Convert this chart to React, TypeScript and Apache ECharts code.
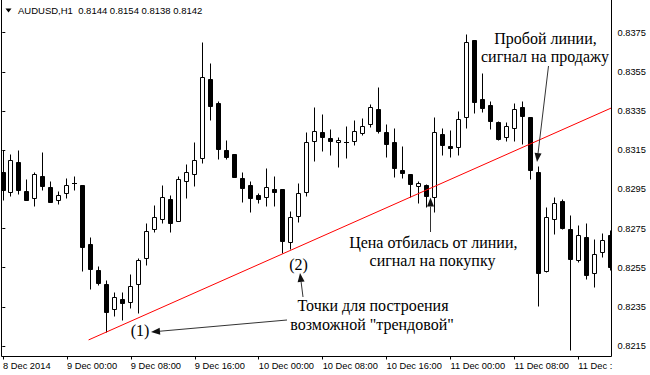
import React, { useEffect, useRef } from "react";
import * as echarts from "echarts";

// ---- header ----
const symbolTitle = "AUDUSD,H1";
const headerValues = ["0.8144", "0.8154", "0.8138", "0.8142"];

// ---- axes ----
const timeLabels = [
  "8 Dec 2014", "9 Dec 00:00", "9 Dec 08:00", "9 Dec 16:00", "10 Dec 00:00",
  "10 Dec 08:00", "10 Dec 16:00", "11 Dec 00:00", "11 Dec 08:00", "11 Dec :",
];
const barsPerLabel = 8;
const priceTickMin = 0.8215;
const priceTickMax = 0.8375;
const priceTickStep = 0.002;
const priceMin = 0.820964;
const priceMax = 0.83917;
const lastBarEdge = 76.15;

// ---- candles (H1 bars, index 0..76) ----
const opens = [
  0.8304, 0.82938, 0.83088, 0.82942, 0.82907, 0.83018, 0.82962, 0.82897, 0.8293, 0.82984,
  0.82972, 0.82671, 0.82538, 0.82467, 0.82337, 0.8239, 0.82376, 0.82465, 0.82597, 0.82746,
  0.82797, 0.82899, 0.82787, 0.82991, 0.83027, 0.83109, 0.83512, 0.8339, 0.83149, 0.83131,
  0.83006, 0.82972, 0.82921, 0.82909, 0.82952, 0.8295, 0.8268, 0.82815, 0.82939, 0.83198,
  0.83241, 0.83211, 0.8319, 0.8319, 0.83198, 0.83239, 0.83282, 0.8336, 0.83241, 0.8319,
  0.83049, 0.83028, 0.82969, 0.82974, 0.82909, 0.83231, 0.83171, 0.83168, 0.83317, 0.83713,
  0.83411, 0.83381, 0.83292, 0.83219, 0.83262, 0.83372, 0.83321, 0.83039, 0.82532, 0.82797,
  0.82889, 0.82747, 0.82588, 0.82707, 0.82525, 0.82628, 0.82717,
];
const closes = [
  0.82947, 0.831, 0.82947, 0.82896, 0.8303, 0.82969, 0.82887, 0.8292, 0.82972, 0.82984,
  0.82657, 0.82545, 0.82473, 0.82325, 0.82399, 0.82368, 0.82458, 0.82588, 0.82737, 0.82807,
  0.82909, 0.82777, 0.83001, 0.83037, 0.83098, 0.83522, 0.83377, 0.83158, 0.83117, 0.83015,
  0.82958, 0.82908, 0.82899, 0.8296, 0.82938, 0.82688, 0.82807, 0.8293, 0.8319, 0.8325,
  0.83219, 0.83198, 0.83202, 0.8319, 0.8325, 0.83274, 0.83371, 0.8325, 0.8318, 0.83058,
  0.83035, 0.82977, 0.82984, 0.82918, 0.83241, 0.83177, 0.83159, 0.83308, 0.83701, 0.83398,
  0.83368, 0.83301, 0.83207, 0.83274, 0.8336, 0.83326, 0.83047, 0.82525, 0.82809, 0.82879,
  0.82753, 0.82596, 0.82715, 0.82513, 0.82619, 0.8269, 0.82552,
];
const highs = [
  0.83151, 0.83131, 0.83151, 0.83003, 0.8304, 0.83141, 0.82993, 0.82942, 0.83006, 0.83018,
  0.82973, 0.82707, 0.82559, 0.82487, 0.82424, 0.82424, 0.82516, 0.82598, 0.8278, 0.82869,
  0.82972, 0.82921, 0.83018, 0.8308, 0.83192, 0.83703, 0.83595, 0.83401, 0.83202, 0.83132,
  0.83037, 0.82993, 0.8293, 0.83058, 0.83018, 0.82951, 0.82839, 0.82981, 0.83242, 0.83372,
  0.83335, 0.83258, 0.83216, 0.83275, 0.83304, 0.83314, 0.83386, 0.83473, 0.83282, 0.83262,
  0.83171, 0.83029, 0.82994, 0.82975, 0.83318, 0.83265, 0.83253, 0.83352, 0.83743, 0.83714,
  0.83546, 0.83403, 0.83301, 0.83292, 0.83391, 0.83401, 0.83322, 0.83069, 0.8286, 0.82911,
  0.82899, 0.82819, 0.82766, 0.8278, 0.82697, 0.82726, 0.82742,
];
const lows = [
  0.82896, 0.82918, 0.82926, 0.82895, 0.82865, 0.82947, 0.82886, 0.82877, 0.82907, 0.82947,
  0.82535, 0.82443, 0.82463, 0.82222, 0.82305, 0.82283, 0.82346, 0.82317, 0.82566, 0.82734,
  0.82777, 0.82734, 0.82786, 0.82907, 0.82969, 0.83086, 0.83306, 0.83107, 0.83107, 0.83014,
  0.82887, 0.82836, 0.82878, 0.82867, 0.82867, 0.82627, 0.82645, 0.82785, 0.82918, 0.83096,
  0.83147, 0.83125, 0.83066, 0.83109, 0.83177, 0.83228, 0.8327, 0.83238, 0.83117, 0.83015,
  0.83006, 0.82912, 0.82879, 0.82861, 0.82836, 0.83125, 0.83117, 0.83125, 0.83263, 0.83338,
  0.83347, 0.8326, 0.83202, 0.83198, 0.83198, 0.83182, 0.83004, 0.82354, 0.82527, 0.82724,
  0.82749, 0.82132, 0.82579, 0.82492, 0.82453, 0.82605, 0.82537,
];

// ---- trend line through points (1) and (2) ----
const trendLine = [
  [10.71, 0.82181],
  [76.15, 0.83366],
];

// ---- annotations ----
const noteSell = ["Пробой линии,", "сигнал на продажу"];
const noteBuy = ["Цена отбилась от линии,", "сигнал на покупку"];
const notePoints = ["Точки для построения", "возможной \"трендовой\""];
const pointLabels = ["(1)", "(2)"];

const SANS = '"Liberation Sans", Arial, sans-serif';
const SERIF = '"Liberation Serif", "Times New Roman", serif';

function arrow(x1: number, y1: number, x2: number, y2: number) {
  const dx = x2 - x1;
  const dy = y2 - y1;
  const len = Math.hypot(dx, dy);
  const ux = dx / len;
  const uy = dy / len;
  const hl = 9;
  const hw = 3.5;
  const bx = x2 - ux * hl;
  const by = y2 - uy * hl;
  return [
    {
      type: "line",
      z: 50,
      shape: { x1, y1, x2: bx, y2: by },
      style: { stroke: "#333", lineWidth: 1 },
    },
    {
      type: "polygon",
      z: 50,
      shape: {
        points: [
          [x2, y2],
          [bx - uy * hw, by + ux * hw],
          [bx + uy * hw, by - ux * hw],
        ],
      },
      style: { fill: "#111" },
    },
  ];
}

function note(text: string, x: number, y: number) {
  return {
    type: "text",
    z: 50,
    x,
    y,
    style: {
      text,
      fill: "#000",
      font: `16px ${SERIF}`,
      align: "center",
      verticalAlign: "middle",
    },
  };
}

export default function App() {
  const ref = useRef<HTMLDivElement>(null);

  useEffect(() => {
    if (!ref.current) return;
    const chart = echarts.init(ref.current, null, { renderer: "svg" });

    const candleData = opens.map((o, i) => [i, o, closes[i], lows[i], highs[i]]);

    const renderItem = (params: any, api: any) => {
      const idx = api.value(0);
      const o = api.value(1);
      const c = api.value(2);
      const l = api.value(3);
      const h = api.value(4);
      const pO = api.coord([idx, o]);
      const pC = api.coord([idx, c]);
      const pL = api.coord([idx, l]);
      const pH = api.coord([idx, h]);
      const cs = params.coordSys;
      const clipL = 1.5;
      const clipR = cs.x + cs.width;
      const cx = Math.floor(pO[0]) + 0.5;
      const snap = (v: number) => Math.round(v) + 0.5;
      const yH = snap(pH[1]);
      const yL = snap(pL[1]);
      const yO = snap(pO[1]);
      const yC = snap(pC[1]);
      const top = Math.min(yO, yC);
      const bot = Math.max(yO, yC);
      const children: any[] = [];
      if (cx > clipL && cx < clipR) {
        children.push({
          type: "line",
          shape: { x1: cx, y1: yH, x2: cx, y2: yL },
          style: { stroke: "#000", lineWidth: 1 },
        });
      }
      const bx1 = Math.max(cx - 2, clipL);
      const bx2 = Math.min(cx + 2, clipR);
      if (bot - top < 1) {
        children.push({
          type: "line",
          shape: { x1: Math.max(cx - 2.5, clipL), y1: top, x2: Math.min(cx + 2.5, clipR), y2: top },
          style: { stroke: "#000", lineWidth: 1 },
        });
      } else {
        const bull = c >= o;
        children.push({
          type: "rect",
          shape: { x: bx1, y: top, width: bx2 - bx1, height: bot - top },
          style: { fill: bull ? "#fff" : "#000", stroke: "#000", lineWidth: 1 },
        });
      }
      return { type: "group", children };
    };

    const graphics: any[] = [
      // chart frame
      {
        type: "polyline",
        z: 60,
        shape: { points: [[1.5, 0], [1.5, 356.5], [611.5, 356.5], [611.5, 0]] },
        style: { stroke: "#000", lineWidth: 1, fill: "none" },
      },
      // header
      {
        type: "polygon",
        z: 60,
        shape: { points: [[5.5, 8.5], [11.5, 8.5], [8.5, 12.5]] },
        style: { fill: "#000" },
      },
      {
        type: "text",
        z: 60,
        x: 18,
        y: 10.5,
        style: {
          text: `${symbolTitle}  ${headerValues.join(" ")}`,
          fill: "#000",
          font: `9.5px ${SANS}`,
          align: "left",
          verticalAlign: "middle",
        },
      },
      note(noteSell[0], 545.5, 38),
      note(noteSell[1], 545, 56),
      note(noteBuy[0], 433.3, 242),
      note(noteBuy[1], 432.5, 260),
      note(notePoints[0], 373, 305),
      note(notePoints[1], 372, 324),
      note(pointLabels[0], 140, 330),
      note(pointLabels[1], 298.5, 264),
      ...arrow(287, 320, 151, 332),
      ...arrow(303, 297, 300, 273),
      ...arrow(430.5, 232, 430.5, 197.5),
      ...arrow(548.5, 66, 537, 162),
    ];

    chart.setOption({
      animation: false,
      backgroundColor: "#fff",
      grid: [
        { left: 2.3, top: 0, width: 609.2, height: 356.5 },
        { left: 2.3, top: 32.7, width: 609.2, height: 313.3 },
      ],
      xAxis: [
        {
          type: "value",
          gridIndex: 0,
          min: 0,
          max: lastBarEdge,
          interval: barsPerLabel,
          axisLine: { show: false },
          axisTick: { show: true, length: 3, lineStyle: { color: "#000" } },
          splitLine: { show: false },
          axisLabel: {
            show: true,
            align: "left",
            margin: 5,
            color: "#000",
            fontSize: 9.3,
            fontFamily: SANS,
            showMaxLabel: false,
            formatter: (v: number) => timeLabels[Math.round(v / barsPerLabel)] ?? "",
          },
        },
        { type: "value", gridIndex: 1, min: 0, max: 1, show: false },
      ],
      yAxis: [
        { type: "value", gridIndex: 0, min: priceMin, max: priceMax, show: false },
        {
          type: "value",
          gridIndex: 1,
          position: "right",
          min: priceTickMin,
          max: priceTickMax,
          interval: priceTickStep,
          axisLine: { show: false },
          axisTick: { show: true, length: 3, lineStyle: { color: "#000" } },
          splitLine: { show: false },
          axisLabel: {
            margin: 6,
            color: "#000",
            fontSize: 9.3,
            fontFamily: SANS,
            formatter: (v: number) => v.toFixed(4),
          },
        },
      ],
      series: [
        {
          type: "custom",
          xAxisIndex: 0,
          yAxisIndex: 0,
          clip: false,
          renderItem,
          data: candleData,
          z: 2,
        },
        {
          type: "line",
          xAxisIndex: 0,
          yAxisIndex: 0,
          data: trendLine,
          symbol: "none",
          lineStyle: { color: "#ff0000", width: 1 },
          z: 5,
        },
      ],
      graphic: graphics,
    });

    return () => chart.dispose();
  }, []);

  return (
    <div
      ref={ref}
      style={{ position: "fixed", left: 0, top: 0, width: 650, height: 375 }}
    />
  );
}
